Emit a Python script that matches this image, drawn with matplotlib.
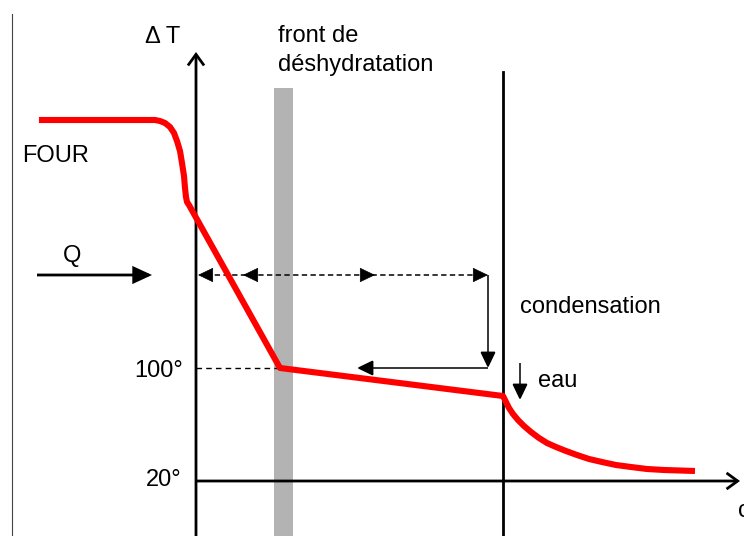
import matplotlib
matplotlib.use("Agg")
import matplotlib.pyplot as plt
from matplotlib.patches import FancyArrowPatch, Rectangle

# ---- schematic data (x: distance from wall, y: height above 20° baseline) ----
profile_x = [-157, -41, -36, -31, -26, -22, -19, -16, -14, -12, -11, -10, -9, -7,
             84, 307, 310, 313, 317, 322, 328, 335, 343, 351, 360, 370, 381,
             393, 406, 420, 435, 451, 468, 484, 499]
profile_y = [361, 361, 360, 358, 354, 348, 340, 330, 318, 305, 293, 284, 279, 276,
             113, 85, 79, 73, 67, 61, 55, 49, 43, 38, 34, 30, 26,
             22, 19, 16, 14, 12, 11, 10.5, 10]

temp_labels = ["100°", "20°"]
temp_levels = [113, 0]

front_x = [78, 97]          # dehydration front (gray band)
condensation_x = 307        # condensation plane
flux_level = 206            # level of the heat flux arrows
dashed_heads_left = [2, 47]
dashed_heads_right = [179, 292]
return_arrow_end = 161

fam = ["Liberation Sans", "DejaVu Sans"]
FS = 17

fig = plt.figure(figsize=(7.44, 5.36), dpi=100)
ax = fig.add_axes([0, 0, 1, 1])
ax.set_xlim(-196, 548)
ax.set_ylim(-55, 481)
ax.axis("off")

def arrow(p0, p1, style, lw, color="black", ls="-", z=3):
    a = FancyArrowPatch(p0, p1, arrowstyle=style, mutation_scale=1,
                        lw=lw, color=color, linestyle=ls, zorder=z,
                        shrinkA=0, shrinkB=0, joinstyle="miter", capstyle="butt")
    ax.add_patch(a)

HEAD = "-|>,head_length=10,head_width=4.8"

# thin frame line at left
ax.plot([-184, -184], [-55, 467], color="#444444", lw=0.8, zorder=1)

# gray dehydration front band
ax.add_patch(Rectangle((front_x[0], -60), front_x[1] - front_x[0], 393 + 60,
                       facecolor="#b3b3b3", edgecolor="none", zorder=1))

# axes
arrow((0, -60), (0, 429), "->,head_length=8,head_width=5.8", 2.0)
arrow((0, 0), (544, 0), "->,head_length=8,head_width=5.8", 2.0)
ax.plot([condensation_x, condensation_x], [-60, 409], color="black", lw=2.0, zorder=3)

# 100° dashed reference
ax.plot([0, profile_x[14]], [temp_levels[0], temp_levels[0]], color="black",
        lw=1.0, dashes=(4, 3), zorder=2)

# Q arrow
arrow((-159, flux_level), (-44, flux_level), "-|>,head_length=10.8,head_width=5", 2.0)

# dashed flux line with heads
ax.plot([dashed_heads_left[0] + 8, dashed_heads_right[1] - 8], [flux_level, flux_level],
        color="black", lw=1.1, dashes=(3.5, 2.2), zorder=3)
for t in dashed_heads_left:
    arrow((t + 14, flux_level), (t, flux_level), HEAD, 0.5)
for t in dashed_heads_right:
    arrow((t - 14, flux_level), (t, flux_level), HEAD, 0.5)

# condensation loop arrows
arrow((dashed_heads_right[1], flux_level), (dashed_heads_right[1], temp_levels[0]), HEAD, 1.1)
arrow((dashed_heads_right[1], temp_levels[0]), (return_arrow_end, temp_levels[0]), HEAD, 1.1)

# eau arrow
arrow((324, 118), (324, 81), HEAD, 1.1)

# temperature profile
ax.plot(profile_x, profile_y, color="#ff0000", lw=4.4, solid_joinstyle="round",
        solid_capstyle="butt", zorder=4)

# texts
kw = dict(family=fam, fontsize=FS, color="black", zorder=5)
ax.text(-51, 444, "Δ T", ha="left", va="center", **kw)
ax.text(82, 439, "front de", ha="left", va="baseline", **kw)
ax.text(82, 410, "déshydratation", ha="left", va="baseline", **kw)
ax.text(-174, 319, "FOUR", ha="left", va="baseline", **kw)
ax.text(-133, 219, "Q", ha="left", va="baseline", **kw)
ax.text(-13, temp_levels[0] - 9, temp_labels[0], ha="right", va="baseline", **kw)
ax.text(-15, temp_levels[1] - 5, temp_labels[1], ha="right", va="baseline", **kw)
ax.text(324, 168, "condensation", ha="left", va="baseline", **kw)
ax.text(342, 94, "eau", ha="left", va="baseline", **kw)
ax.text(542, -36, "c", ha="left", va="baseline", **kw)

fig.savefig("out.png", dpi=100)
